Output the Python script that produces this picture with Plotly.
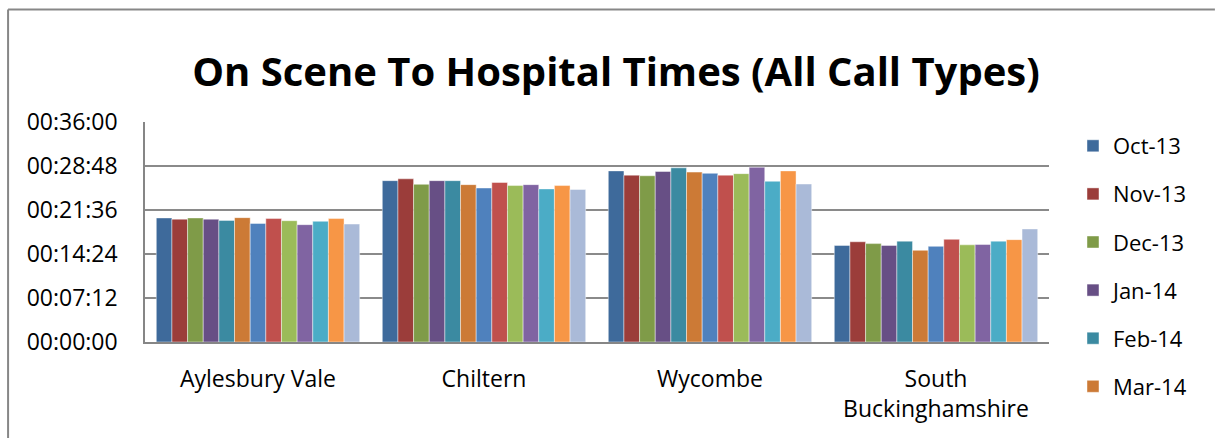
import plotly.graph_objects as go

categories = ["Aylesbury Vale", "Chiltern", "Wycombe", "South<br>Buckinghamshire"]
months = ["Oct-13", "Nov-13", "Dec-13", "Jan-14", "Feb-14", "Mar-14",
          "Apr-14", "May-14", "Jun-14", "Jul-14", "Aug-14", "Sep-14", "Oct-14"]

# values in minutes, per month: [Aylesbury Vale, Chiltern, Wycombe, South Bucks]
oct13 = [20.3, 26.4, 28.0, 15.8]
nov13 = [20.1, 26.7, 27.3, 16.4]
dec13 = [20.3, 25.8, 27.2, 16.1]
jan14 = [20.1, 26.4, 27.9, 15.8]
feb14 = [19.9, 26.4, 28.5, 16.5]
mar14 = [20.35, 25.75, 27.8, 15.0]
apr14 = [19.4, 25.2, 27.6, 15.65]
may14 = [20.2, 26.1, 27.3, 16.8]
jun14 = [19.85, 25.6, 27.55, 15.9]
jul14 = [19.2, 25.75, 28.6, 15.95]
aug14 = [19.75, 25.05, 26.3, 16.5]
sep14 = [20.2, 25.6, 28.0, 16.75]
oct14 = [19.3, 24.95, 25.85, 18.5]

series = [oct13, nov13, dec13, jan14, feb14, mar14, apr14, may14, jun14, jul14, aug14, sep14, oct14]

tick_vals = [0, 7.2, 14.4, 21.6, 28.8, 36]
tick_text = ["00:00:00", "00:07:12", "00:14:24", "00:21:36", "00:28:48", "00:36:00"]

colors = ["#3E6A9B", "#9B3D3A", "#7F9B48", "#674F85", "#3B8AA1", "#CC7A36",
          "#4F81BD", "#C0504D", "#9BBB59", "#8064A2", "#4BACC6", "#F79646", "#AABAD8"]

W, H = 1215, 438
L, R, T, B = 144.5, 1049, 122, 342


def px(x):
    return (x - L) / (R - L)


def py(y):
    return (B - y) / (B - T)


fig = go.Figure()
for i, (m, vals) in enumerate(zip(months, series)):
    fig.add_trace(go.Bar(
        x=categories, y=vals, name=m,
        marker=dict(color=colors[i], line=dict(color="rgba(255,255,255,0.55)", width=0.8)),
        showlegend=i < 6, legendgroup=m,
    ))

font = "Open Sans"
fig.update_layout(
    width=W, height=H,
    margin=dict(l=L, r=W - R, t=T, b=H - B),
    paper_bgcolor="white", plot_bgcolor="white",
    barmode="group", bargap=0.1, bargroupgap=0,
    font=dict(family=font, color="black", size=22),
    title=dict(text="<b>On Scene To Hospital Times (All Call Types)</b>",
               xref="container", yref="container", x=616 / W, y=1 - 72 / H,
               xanchor="center", yanchor="middle",
               font=dict(family=font, size=40, color="black")),
    legend=dict(x=px(1073), y=py(125), xanchor="left", yanchor="top",
                font=dict(family=font, size=22, color="black"),
                tracegroupgap=16.5, itemclick=False, bgcolor="rgba(0,0,0,0)",
                maxheight=420),
    xaxis=dict(showline=True, linecolor="#868686", linewidth=2, showgrid=False,
               ticks="", ticklabelstandoff=15, tickfont=dict(size=23)),
    yaxis=dict(range=[0, 36], tickvals=tick_vals, ticktext=tick_text,
               showgrid=True, gridcolor="#8A8A8A", gridwidth=1.5,
               showline=True, linecolor="#868686", linewidth=1.5,
               zeroline=False, ticks="", ticklabelstandoff=21,
               tickfont=dict(size=23)),
    shapes=[
        dict(type="line", xref="paper", yref="paper", x0=px(7.5), x1=px(7.5),
             y0=py(9.5), y1=py(460), line=dict(color="#878787", width=2)),
        dict(type="line", xref="paper", yref="paper", x0=px(7.5), x1=px(1215),
             y0=py(9.5), y1=py(9.5), line=dict(color="#878787", width=2)),
    ],
)

fig.write_html("out.html")
